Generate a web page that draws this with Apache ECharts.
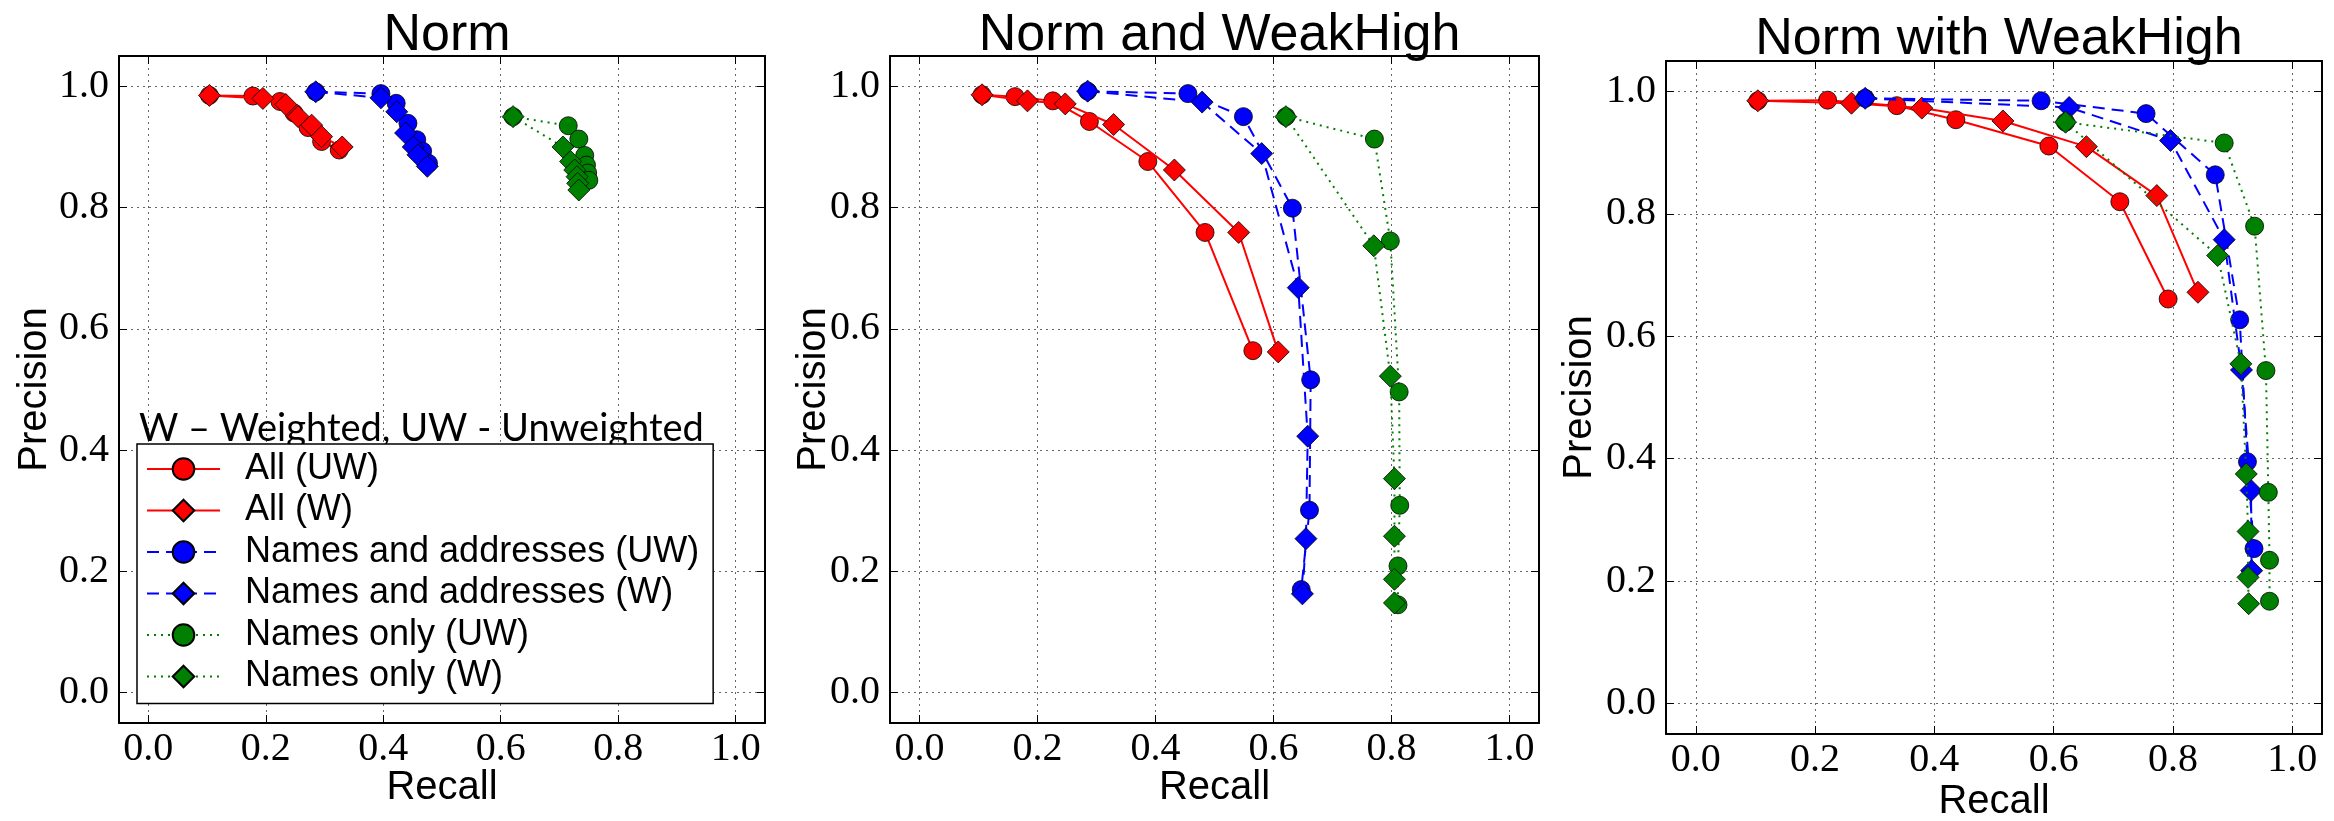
<!DOCTYPE html>
<html><head><meta charset="utf-8">
<script src="https://cdn.jsdelivr.net/npm/echarts@6/dist/echarts.min.js"></script>
<style>html,body{margin:0;padding:0;background:#fff}#c{width:2334px;height:821px}</style>
</head><body><div id="c"></div><script>
const panelTitles = ['Norm', 'Norm and WeakHigh', 'Norm with WeakHigh'];
const seriesNames = ['All (UW)', 'All (W)', 'Names and addresses (UW)', 'Names and addresses (W)', 'Names only (UW)', 'Names only (W)'];
const legendNote = 'W \u2013 Weighted, UW - Unweighted';
const xName = 'Recall';
const yName = 'Precision';
const tickValues = [0, 0.2, 0.4, 0.6, 0.8, 1.0];
const tickLabels = ['0.0', '0.2', '0.4', '0.6', '0.8', '1.0'];

// Panel 1: Norm  [recall, precision]
const norm_allUW = [[0.104,0.985],[0.178,0.984],[0.224,0.975],[0.248,0.956],[0.272,0.932],[0.295,0.909],[0.325,0.895]];
const norm_allW  = [[0.104,0.985],[0.195,0.980],[0.234,0.970],[0.255,0.950],[0.278,0.936],[0.295,0.917],[0.330,0.900]];
const norm_naUW  = [[0.285,0.991],[0.396,0.988],[0.422,0.972],[0.442,0.939],[0.457,0.912],[0.467,0.893],[0.477,0.873]];
const norm_naW   = [[0.285,0.991],[0.396,0.981],[0.423,0.958],[0.438,0.923],[0.451,0.900],[0.459,0.887],[0.475,0.868]];
const norm_noUW  = [[0.621,0.950],[0.715,0.935],[0.733,0.913],[0.743,0.886],[0.746,0.870],[0.748,0.857],[0.750,0.845]];
const norm_noW   = [[0.621,0.950],[0.706,0.900],[0.719,0.876],[0.726,0.862],[0.730,0.851],[0.731,0.840],[0.733,0.829]];

// Panel 2: Norm and WeakHigh
const and_allUW = [[0.106,0.986],[0.162,0.983],[0.226,0.976],[0.288,0.942],[0.387,0.876],[0.484,0.759],[0.565,0.564]];
const and_allW  = [[0.106,0.986],[0.183,0.976],[0.247,0.971],[0.329,0.937],[0.432,0.862],[0.541,0.759],[0.608,0.562]];
const and_naUW  = [[0.285,0.992],[0.455,0.988],[0.549,0.950],[0.632,0.799],[0.663,0.516],[0.661,0.301],[0.647,0.170]];
const and_naW   = [[0.285,0.992],[0.479,0.974],[0.580,0.889],[0.642,0.668],[0.658,0.423],[0.655,0.254],[0.649,0.163]];
const and_noUW  = [[0.621,0.950],[0.771,0.913],[0.798,0.745],[0.813,0.496],[0.814,0.309],[0.811,0.209],[0.811,0.145]];
const and_noW   = [[0.621,0.950],[0.770,0.737],[0.798,0.522],[0.805,0.353],[0.805,0.258],[0.805,0.187],[0.805,0.148]];

// Panel 3: Norm with WeakHigh
const with_allUW = [[0.104,0.985],[0.221,0.986],[0.337,0.977],[0.436,0.954],[0.592,0.911],[0.711,0.820],[0.792,0.661]];
const with_allW  = [[0.104,0.985],[0.261,0.981],[0.379,0.973],[0.515,0.952],[0.655,0.910],[0.773,0.830],[0.842,0.672]];
const with_naUW  = [[0.284,0.989],[0.579,0.985],[0.755,0.964],[0.871,0.864],[0.912,0.627],[0.925,0.395],[0.936,0.253]];
const with_naW   = [[0.284,0.989],[0.626,0.974],[0.796,0.920],[0.886,0.758],[0.915,0.545],[0.931,0.348],[0.932,0.217]];
const with_noUW  = [[0.620,0.950],[0.886,0.916],[0.937,0.780],[0.956,0.544],[0.960,0.345],[0.962,0.234],[0.962,0.167]];
const with_noW   = [[0.620,0.950],[0.875,0.732],[0.914,0.555],[0.923,0.375],[0.926,0.281],[0.926,0.206],[0.927,0.163]];

const panelData = [
  [norm_allUW, norm_allW, norm_naUW, norm_naW, norm_noUW, norm_noW],
  [and_allUW, and_allW, and_naUW, and_naW, and_noUW, and_noW],
  [with_allUW, with_allW, with_naUW, with_naW, with_noUW, with_noW]
];

// layout / style
const grids = [
  {left:119, top:56, width:646, height:667},
  {left:890, top:56, width:649, height:667},
  {left:1666, top:61, width:656, height:673}
];
const titleTops = [5, 5, 9];
const xNameGaps = [45, 45, 48];
const yNameGaps = [64, 56, 66];
const styles = [
  {color:'#ff0000', type:'solid', width:2, symbol:'circle', size:18},
  {color:'#ff0000', type:'solid', width:2, symbol:'diamond', size:22},
  {color:'#0000ff', type:[12,7], width:2, symbol:'circle', size:18},
  {color:'#0000ff', type:[12,7], width:2, symbol:'diamond', size:22},
  {color:'#008000', type:[2,5], width:2, symbol:'circle', size:18},
  {color:'#008000', type:[2,5], width:2, symbol:'diamond', size:22}
];
const sans = 'Liberation Sans';
const serif = 'Liberation Serif';
const fmt = v => { let b = 0; for (let k = 1; k < tickValues.length; k++) if (Math.abs(tickValues[k]-v) < Math.abs(tickValues[b]-v)) b = k; return tickLabels[b]; };
const axisLine = {show:true, onZero:false, lineStyle:{color:'#000', width:2}};
const split = {show:true, lineStyle:{color:'#666', type:[2,4], width:1}};

const xAxis = [], yAxis = [], series = [], title = [];
grids.forEach((g, i) => {
  title.push({text: panelTitles[i], left: g.left + g.width/2, top: titleTops[i], textAlign:'center',
    textStyle:{fontFamily:sans, fontSize:52, fontWeight:'normal', color:'#000', lineHeight:52}});
  xAxis.push({gridIndex:i, type:'value', min:-0.05, max:1.05, position:'bottom',
    name:xName, nameLocation:'middle', nameGap:xNameGaps[i], nameMoveOverlap:false,
    nameTextStyle:{fontFamily:sans, fontSize:40, color:'#000'},
    axisLine, axisTick:{show:true, inside:true, length:8, customValues:tickValues, lineStyle:{color:'#000', width:1}},
    axisLabel:{customValues:tickValues, formatter:fmt, fontFamily:serif, fontSize:40, color:'#000', margin:6},
    splitLine:split});
  xAxis.push({gridIndex:i, type:'value', min:-0.05, max:1.05, position:'top',
    axisLine, axisTick:{show:true, inside:true, length:8, customValues:tickValues, lineStyle:{color:'#000', width:1}},
    axisLabel:{show:false}, splitLine:{show:false}});
  yAxis.push({gridIndex:i, type:'value', min:-0.05, max:1.05, position:'left',
    name:yName, nameLocation:'middle', nameGap:yNameGaps[i], nameRotate:90, nameMoveOverlap:false,
    nameTextStyle:{fontFamily:sans, fontSize:40, color:'#000'},
    axisLine, axisTick:{show:true, inside:true, length:8, customValues:tickValues, lineStyle:{color:'#000', width:1}},
    axisLabel:{customValues:tickValues, formatter:fmt, fontFamily:serif, fontSize:40, color:'#000', margin:10},
    splitLine:split});
  yAxis.push({gridIndex:i, type:'value', min:-0.05, max:1.05, position:'right',
    axisLine, axisTick:{show:true, inside:true, length:8, customValues:tickValues, lineStyle:{color:'#000', width:1}},
    axisLabel:{show:false}, splitLine:{show:false}});
  panelData[i].forEach((d, s) => {
    const st = styles[s];
    series.push({type:'line', name:seriesNames[s], xAxisIndex:i*2, yAxisIndex:i*2, data:d,
      symbol:st.symbol, symbolSize:st.size, showAllSymbol:true, clip:false,
      lineStyle:{color:st.color, width:st.width, type:st.type},
      itemStyle:{color:st.color, borderColor:'#000', borderWidth:0.8},
      emphasis:{disabled:true}, animation:false, z:2+s});
  });
});
title.push({text:legendNote, left:134, top:405,
  textStyle:{fontFamily:'Lato', fontSize:38, fontWeight:'normal', color:'#000'}});

const chart = echarts.init(document.getElementById('c'), null, {renderer:'canvas'});
chart.setOption({
  animation:false,
  backgroundColor:'#fff',
  title,
  grid: grids.map(g => Object.assign({outerBoundsMode:'none', containLabel:false}, g)),
  xAxis, yAxis, series,
  legend:{data:seriesNames, orient:'vertical', left:137, top:444, itemWidth:73, itemHeight:27, itemGap:5.5,
    padding:[7,14,9,9], borderColor:'#000', borderWidth:1.5, borderRadius:0, backgroundColor:'#fff',
    selectedMode:false, z:10,
    textStyle:{fontFamily:sans, fontSize:36, lineHeight:36, color:'#000', padding:[0,0,0,20]}}
});
</script></body></html>
